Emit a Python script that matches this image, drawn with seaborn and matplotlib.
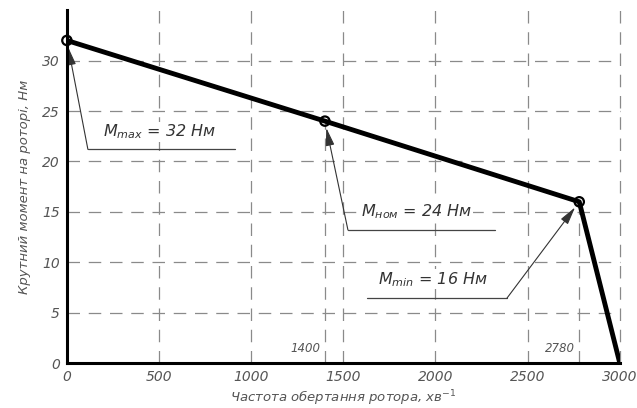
import matplotlib
matplotlib.use("Agg")
import matplotlib.pyplot as plt
import seaborn as sns
import pandas as pd

# ---------------------------------------------------------------------
# ДАНІ
# ---------------------------------------------------------------------
speed = [0, 1400, 2780, 3000]          # хв^-1
torque = [32, 24, 16, 0]               # Нм
key_speed = [0, 1400, 2780]
key_torque = [32, 24, 16]
key_labels = [r"$M_{max}$ = 32 Нм", r"$M_{ном}$ = 24 Нм", r"$M_{min}$ = 16 Нм"]
x_ticks = [0, 500, 1000, 1500, 2000, 2500, 3000]
y_ticks = [0, 5, 10, 15, 20, 25, 30]

df = pd.DataFrame({"n": speed, "M": torque})

sns.set_style("white")
plt.rcParams["font.family"] = ["DejaVu Sans"]
plt.rcParams["mathtext.fontset"] = "dejavusans"

fig = plt.figure(figsize=(6.37, 4.08), dpi=100)
ax = fig.add_axes([0.105, 0.110, 0.868, 0.865])

grid_c = "#8a8a8a"
dash = (0, (10, 7))

# сітка
for x in x_ticks[1:]:
    ax.plot([x, x], [0, 35], color=grid_c, lw=0.9, ls=dash, zorder=1, clip_on=False)
for y in y_ticks[1:]:
    ax.plot([0, 3000], [y, y], color=grid_c, lw=0.9, ls=dash, zorder=1, clip_on=False)
for x, y in zip(key_speed[1:], key_torque[1:]):
    ax.plot([x, x], [0, y], color=grid_c, lw=0.9, ls=dash, zorder=1)

# характеристика
sns.lineplot(data=df, x="n", y="M", color="black", lw=3.5, ax=ax, zorder=3)
ax.scatter(key_speed, key_torque, s=45, facecolors="none", edgecolors="black",
           linewidths=1.6, zorder=4, clip_on=False)

# виноски
anchors = [(114, 21.2, 912), (1525, 13.2, 2322), (2388, 6.45, 1628)]
text_pos = [(505, 22.0), (1900, 14.1), (1985, 7.4)]
for (ax0, ay, ax1), (tx, ty), px, py, lab in zip(anchors, text_pos, key_speed, key_torque, key_labels):
    ax.plot([ax0, ax1], [ay, ay], color="#444444", lw=0.9, zorder=2)
    ax.annotate("", xy=(px, py), xytext=(ax0, ay),
                arrowprops=dict(arrowstyle="-|>,head_length=0.9,head_width=0.22",
                                color="#333333", lw=0.8,
                                mutation_scale=12, shrinkA=0, shrinkB=5),
                zorder=2)
    ax.text(tx, ty, lab, ha="center", va="bottom", fontsize=11.5,
            style="italic", color="#333333", zorder=5,
            bbox=dict(facecolor="white", edgecolor="none", pad=0.5))

# підписи 1400 та 2780
for x in key_speed[1:]:
    ax.text(x - 25, 0.8, str(x), ha="right", va="bottom", fontsize=8.5,
            style="italic", color="#555555")

ax.set_xlim(0, 3000)
ax.set_ylim(0, 35)
ax.set_xticks(x_ticks)
ax.set_yticks(y_ticks)
ax.tick_params(length=0, labelsize=10, labelcolor="#555555", pad=5)
for lab in ax.get_xticklabels() + ax.get_yticklabels():
    lab.set_style("italic")

for s in ["top", "right"]:
    ax.spines[s].set_visible(False)
for s in ["left", "bottom"]:
    ax.spines[s].set_linewidth(2.2)
    ax.spines[s].set_color("black")

ax.set_xlabel("Частота обертання ротора, хв$^{-1}$", fontsize=9.5,
              style="italic", color="#555555", labelpad=3)
ax.set_ylabel("Крутний момент на роторі, Нм", fontsize=9.5,
              style="italic", color="#555555", labelpad=8)

fig.savefig("out.png", dpi=100)
